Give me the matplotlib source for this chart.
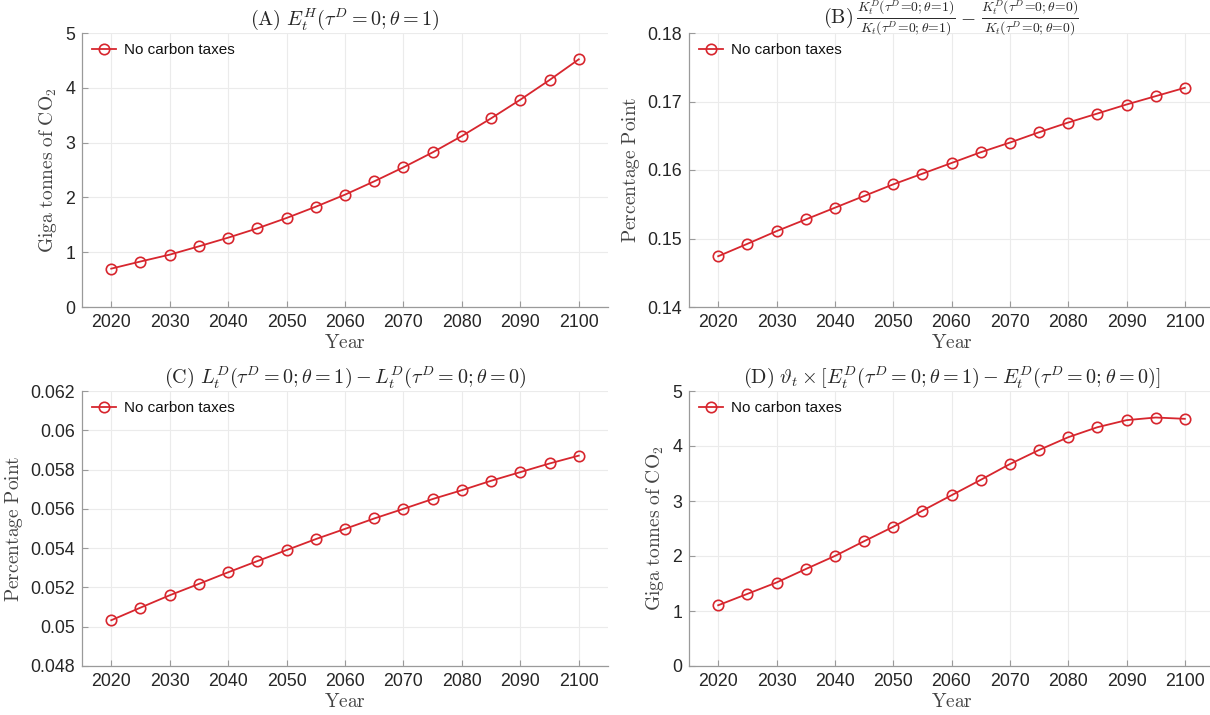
import matplotlib
matplotlib.use("Agg")
import matplotlib.pyplot as plt
from matplotlib.lines import Line2D
import numpy as np

years = [2020, 2025, 2030, 2035, 2040, 2045, 2050, 2055, 2060, 2065, 2070, 2075, 2080, 2085, 2090, 2095, 2100]
emis_h = [0.70, 0.83, 0.955, 1.107, 1.265, 1.435, 1.624, 1.83, 2.05, 2.293, 2.549, 2.822, 3.12, 3.443, 3.783, 4.142, 4.52]
cap_share = [0.14741, 0.14922, 0.15107, 0.15278, 0.15449, 0.15620, 0.15790, 0.15946, 0.16102, 0.16259,
             0.16400, 0.16551, 0.16693, 0.16824, 0.16956, 0.17078, 0.17200]
labor_diff = [0.05033, 0.05097, 0.05160, 0.05218, 0.05277, 0.05334, 0.05390, 0.05446, 0.05498, 0.05551,
              0.05600, 0.05650, 0.05695, 0.05743, 0.05787, 0.05831, 0.05871]
emis_d = [1.104, 1.311, 1.518, 1.762, 2.0, 2.268, 2.530, 2.823, 3.104, 3.384, 3.671, 3.927, 4.159, 4.341, 4.470, 4.518, 4.494]

xticks = [2020, 2030, 2040, 2050, 2060, 2070, 2080, 2090, 2100]
series_label = "No carbon taxes"

titles = [
    r"$\mathrm{(A)}\ E_t^H(\tau^D=0;\theta=1)$",
    None,
    r"$\mathrm{(C)}\ L_t^D(\tau^D=0;\theta=1) - L_t^D(\tau^D=0;\theta=0)$",
    r"$\mathrm{(D)}\ \vartheta_t \times [E_t^D(\tau^D=0;\theta=1) - E_t^D(\tau^D=0;\theta=0)]$",
]
title_b_label = r"$\mathrm{(B)}$"
title_b_num = [r"$K_t^D(\tau^D\!=\!0;\theta\!=\!1)$", r"$K_t^D(\tau^D\!=\!0;\theta\!=\!0)$"]
title_b_den = [r"$K_t(\tau^D\!=\!0;\theta\!=\!1)$", r"$K_t(\tau^D\!=\!0;\theta\!=\!0)$"]
ylabels = [r"$\mathrm{Giga\ tonnes\ of\ CO}_2$", r"$\mathrm{Percentage\ Point}$",
           r"$\mathrm{Percentage\ Point}$", r"$\mathrm{Giga\ tonnes\ of\ CO}_2$"]
ylims = [(0, 5), (0.14, 0.18), (0.048, 0.062), (0, 5)]
yticks = [np.arange(0, 5.01, 1), np.arange(0.14, 0.1801, 0.01), np.arange(0.048, 0.06201, 0.002), np.arange(0, 5.01, 1)]
yticklabels = [["0", "1", "2", "3", "4", "5"],
               ["0.14", "0.15", "0.16", "0.17", "0.18"],
               ["0.048", "0.05", "0.052", "0.054", "0.056", "0.058", "0.06", "0.062"],
               ["0", "1", "2", "3", "4", "5"]]
data = [emis_h, cap_share, labor_diff, emis_d]

plt.rcParams["mathtext.fontset"] = "cm"
plt.rcParams["font.family"] = ["Liberation Sans", "DejaVu Sans"]

W, H = 1210, 715
fig = plt.figure(figsize=(W / 100, H / 100), dpi=100)

# axes rects in pixels: left, top, right, bottom
rects = [(82, 33, 608, 307), (689, 33, 1214, 307), (82, 391, 608, 666), (689, 391, 1214, 666)]
red = "#d7262e"
spine_c = "#9a9a9a"
text_c = "#262626"

for i, (l, t, r, b) in enumerate(rects):
    ax = fig.add_axes([l / W, 1 - b / H, (r - l) / W, (b - t) / H])
    ax.plot(years, data[i], color=red, lw=1.3, marker="o", ms=7.5, mfc="none", mec=red, mew=1.2,
            label=series_label)
    ax.set_xlim(2015, 2105)
    ax.set_ylim(*ylims[i])
    ax.set_xticks(xticks)
    ax.set_yticks(yticks[i])
    ax.set_yticklabels(yticklabels[i])
    ax.grid(True, color="#ebebeb", lw=0.8)
    ax.set_axisbelow(True)
    for s in ["top", "right"]:
        ax.spines[s].set_visible(False)
    for s in ["left", "bottom"]:
        ax.spines[s].set_color(spine_c)
        ax.spines[s].set_linewidth(0.9)
    ax.tick_params(direction="in", length=4, width=0.8, color=spine_c, labelsize=12.8, labelcolor=text_c, pad=5)
    if titles[i] is not None:
        ax.set_title(titles[i], fontsize=14.5, color=text_c, pad=6)
    ax.set_xlabel(r"$\mathrm{Year}$", fontsize=14, color="#444444", labelpad=2)
    ax.set_ylabel(ylabels[i], fontsize=14, color="#444444", labelpad=4)
    leg = ax.legend(loc="upper left", frameon=False, fontsize=11, handlelength=1.6,
                    borderaxespad=0.25, handletextpad=0.5)
    for txt in leg.get_texts():
        txt.set_color("#111111")

# Panel B title composed of label + two compact fractions
def fx(px):
    return px / W

def fy(py):
    return 1 - py / H

bar_y = 18
fig.text(fx(823), fy(bar_y), title_b_label, fontsize=14.5, color=text_c, ha="left", va="center")
frac_spans = [(857, 955), (982, 1078)]
for k, (x0, x1) in enumerate(frac_spans):
    xc = (x0 + x1) / 2
    fig.text(fx(xc), fy(bar_y - 1), title_b_num[k], fontsize=9.8, color=text_c, ha="center", va="bottom")
    fig.text(fx(xc), fy(bar_y + 1.5), title_b_den[k], fontsize=9.8, color=text_c, ha="center", va="top")
    fig.add_artist(Line2D([fx(x0), fx(x1)], [fy(bar_y), fy(bar_y)], transform=fig.transFigure,
                          color=text_c, lw=0.7))
fig.text(fx(968), fy(bar_y), r"$-$", fontsize=14, color=text_c, ha="center", va="center")

fig.savefig("out.png", dpi=100)
